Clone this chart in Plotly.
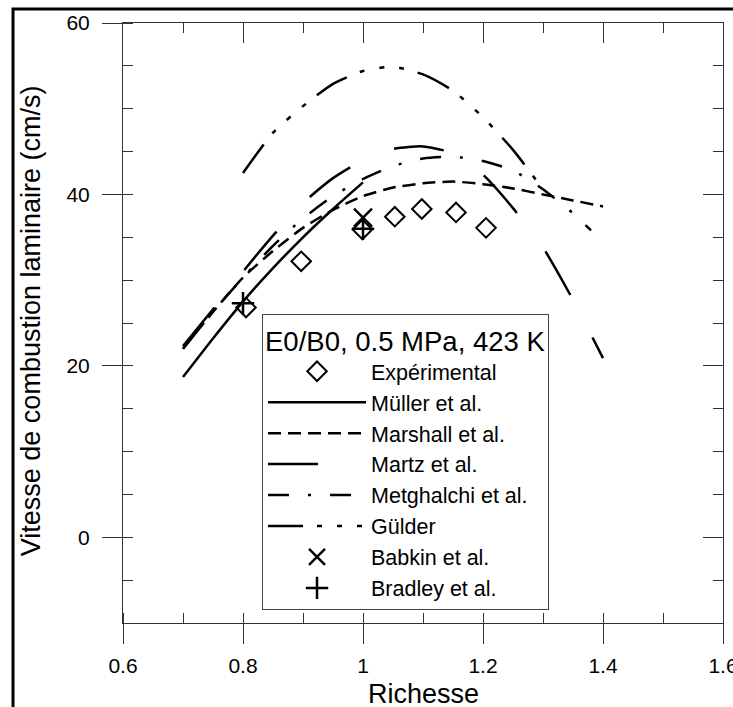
import plotly.graph_objects as go

# richesse (phi) and laminar burning velocity (cm/s)
phi_exp = [0.805, 0.897, 0.999, 1.053, 1.098, 1.155, 1.205]
su_exp = [26.8, 32.2, 35.9, 37.4, 38.3, 37.9, 36.1]

phi_muller = [0.70, 0.75, 0.80, 0.85, 0.90, 0.95, 1.00]
su_muller = [18.7, 23.2, 27.5, 31.4, 35.0, 38.3, 41.4]

phi_marshall = [0.70, 0.75, 0.80, 0.85, 0.90, 0.95, 1.00, 1.05, 1.10, 1.15, 1.20, 1.25, 1.30, 1.35, 1.40]
su_marshall = [22.0, 26.3, 30.3, 33.4, 36.1, 38.2, 39.8, 40.8, 41.3, 41.5, 41.2, 40.7, 40.0, 39.3, 38.6]

phi_martz = [0.70, 0.75, 0.80, 0.85, 0.90, 0.95, 1.00, 1.05, 1.10, 1.15, 1.20, 1.25, 1.30, 1.35, 1.40]
su_martz = [22.3, 26.6, 31.0, 35.2, 39.0, 41.9, 44.0, 45.3, 45.6, 44.8, 42.3, 38.4, 33.8, 27.7, 20.9]

phi_metghalchi = [0.70, 0.75, 0.80, 0.85, 0.90, 0.95, 1.00, 1.05, 1.10, 1.15, 1.20, 1.25, 1.30, 1.35, 1.38]
su_metghalchi = [22.0, 26.3, 30.3, 34.0, 37.2, 39.8, 41.8, 43.3, 44.2, 44.4, 43.9, 42.8, 40.6, 37.8, 35.8]

phi_gulder = [0.80, 0.85, 0.90, 0.95, 1.00, 1.05, 1.10, 1.15, 1.20, 1.25, 1.30]
su_gulder = [42.5, 47.2, 50.3, 52.9, 54.4, 54.9, 54.0, 52.1, 49.0, 45.2, 40.6]

phi_babkin = [1.0]
su_babkin = [37.3]

phi_bradley = [0.80, 1.0]
su_bradley = [27.3, 36.0]

x_ticks = [0.6, 0.8, 1.0, 1.2, 1.4, 1.6]
x_labels = ['0.6', '0.8', '1', '1.2', '1.4', '1.6']
y_ticks = [0, 20, 40, 60]

FONT = "Liberation Sans, Arial, sans-serif"
LW = 2.5

fig = go.Figure()

fig.add_trace(go.Scatter(
    x=phi_exp, y=su_exp, mode='markers', name='Expérimental',
    marker=dict(symbol='diamond-open', size=15, color='black', line=dict(width=2))
))

# model curves
curves = [
    ('Müller et al.', phi_muller, su_muller, 'solid'),
    ('Marshall et al.', phi_marshall, su_marshall, '13px,7px'),
    ('Martz et al.', phi_martz, su_martz, '50px,48px'),
    ('Metghalchi et al.', phi_metghalchi, su_metghalchi, '21px,19px,3px,19px'),
    ('Gülder', phi_gulder, su_gulder, '35px,14px,5px,15px,5px,15px,5px,14px'),
]
for name, xs, ys, dash in curves:
    fig.add_trace(go.Scatter(
        x=xs, y=ys, mode='lines', name=name,
        line=dict(color='black', width=LW, dash=dash, shape='spline', smoothing=0.6)
    ))

fig.add_trace(go.Scatter(
    x=phi_babkin, y=su_babkin, mode='markers', name='Babkin et al.',
    marker=dict(symbol='x-thin-open', size=18, color='black', line=dict(width=2.5, color='black'))
))
fig.add_trace(go.Scatter(
    x=phi_bradley, y=su_bradley, mode='markers', name='Bradley et al.',
    marker=dict(symbol='cross-thin-open', size=16, color='black', line=dict(width=2.5, color='black'))
))

# dummy trace so the top / right axes get drawn
fig.add_trace(go.Scatter(x=[None], y=[None], xaxis='x2', yaxis='y2',
                         showlegend=False, hoverinfo='skip'))

axis_common = dict(showline=True, linecolor='#333', linewidth=1, showgrid=False,
                   zeroline=False, tickcolor='#333', tickwidth=1, automargin=False)

fig.update_layout(
    width=733, height=707,
    margin=dict(l=123, r=10, t=23, b=84),
    paper_bgcolor='white', plot_bgcolor='white',
    font=dict(family=FONT, color='black'),
    xaxis=dict(range=[0.6, 1.6], tickmode='array', tickvals=x_ticks, ticktext=x_labels,
               ticks='outside', ticklen=20, ticklabeloverflow='allow',
               minor=dict(ticks='inside', ticklen=10, tick0=0.6, dtick=0.1, tickcolor='#333'),
               tickfont=dict(size=21), ticklabelstandoff=4,
               **axis_common),
    yaxis=dict(range=[-10, 60], tickmode='array', tickvals=y_ticks, ticks='outside', ticklen=20,
               minor=dict(ticks='inside', ticklen=10, tick0=0, dtick=5, tickcolor='#333'),
               tickfont=dict(size=21), ticklabelstandoff=8,
               **axis_common),
    xaxis2=dict(range=[0.6, 1.6], overlaying='x', side='top', tickmode='array', tickvals=x_ticks,
                ticks='inside', ticklen=20, showticklabels=False,
                minor=dict(ticks='inside', ticklen=10, tick0=0.6, dtick=0.1, tickcolor='#333'),
                **axis_common),
    yaxis2=dict(range=[-10, 60], overlaying='y', side='right', tickmode='array', tickvals=y_ticks,
                ticks='inside', ticklen=20, showticklabels=False,
                minor=dict(ticks='inside', ticklen=10, tick0=0, dtick=5, tickcolor='#333'),
                **axis_common),
    legend=dict(
        x=0.2317, y=0.515, xanchor='left', yanchor='top',
        bgcolor='white', bordercolor='#444', borderwidth=1,
        font=dict(size=21.5), itemwidth=98, tracegroupgap=0,
        title=dict(text='E0/B0, 0.5 MPa, 423 K', font=dict(size=27.5)),
    ),
    showlegend=True,
)

# axis titles placed as annotations so they sit where the original has them
fig.add_annotation(text='Richesse', xref='paper', yref='paper', x=0.5, y=-0.1175,
                   xanchor='center', yanchor='middle', showarrow=False,
                   font=dict(size=27))
fig.add_annotation(text='Vitesse de combustion laminaire (cm/s)', xref='paper', yref='paper',
                   x=-0.1533, y=0.503, xanchor='center', yanchor='middle', textangle=-90,
                   showarrow=False, font=dict(size=27))

# outer frame of the original figure
fig.add_shape(type='rect', xref='paper', yref='paper',
              x0=-0.1833, x1=1.05, y0=-0.16, y1=1.0233,
              line=dict(color='black', width=3), layer='above')

# drop the browser's default body margin so the figure sits at the page corner
fig.write_html("out.html", config={'displayModeBar': False},
               post_script="document.body.style.margin='0';document.body.style.overflow='hidden';")
